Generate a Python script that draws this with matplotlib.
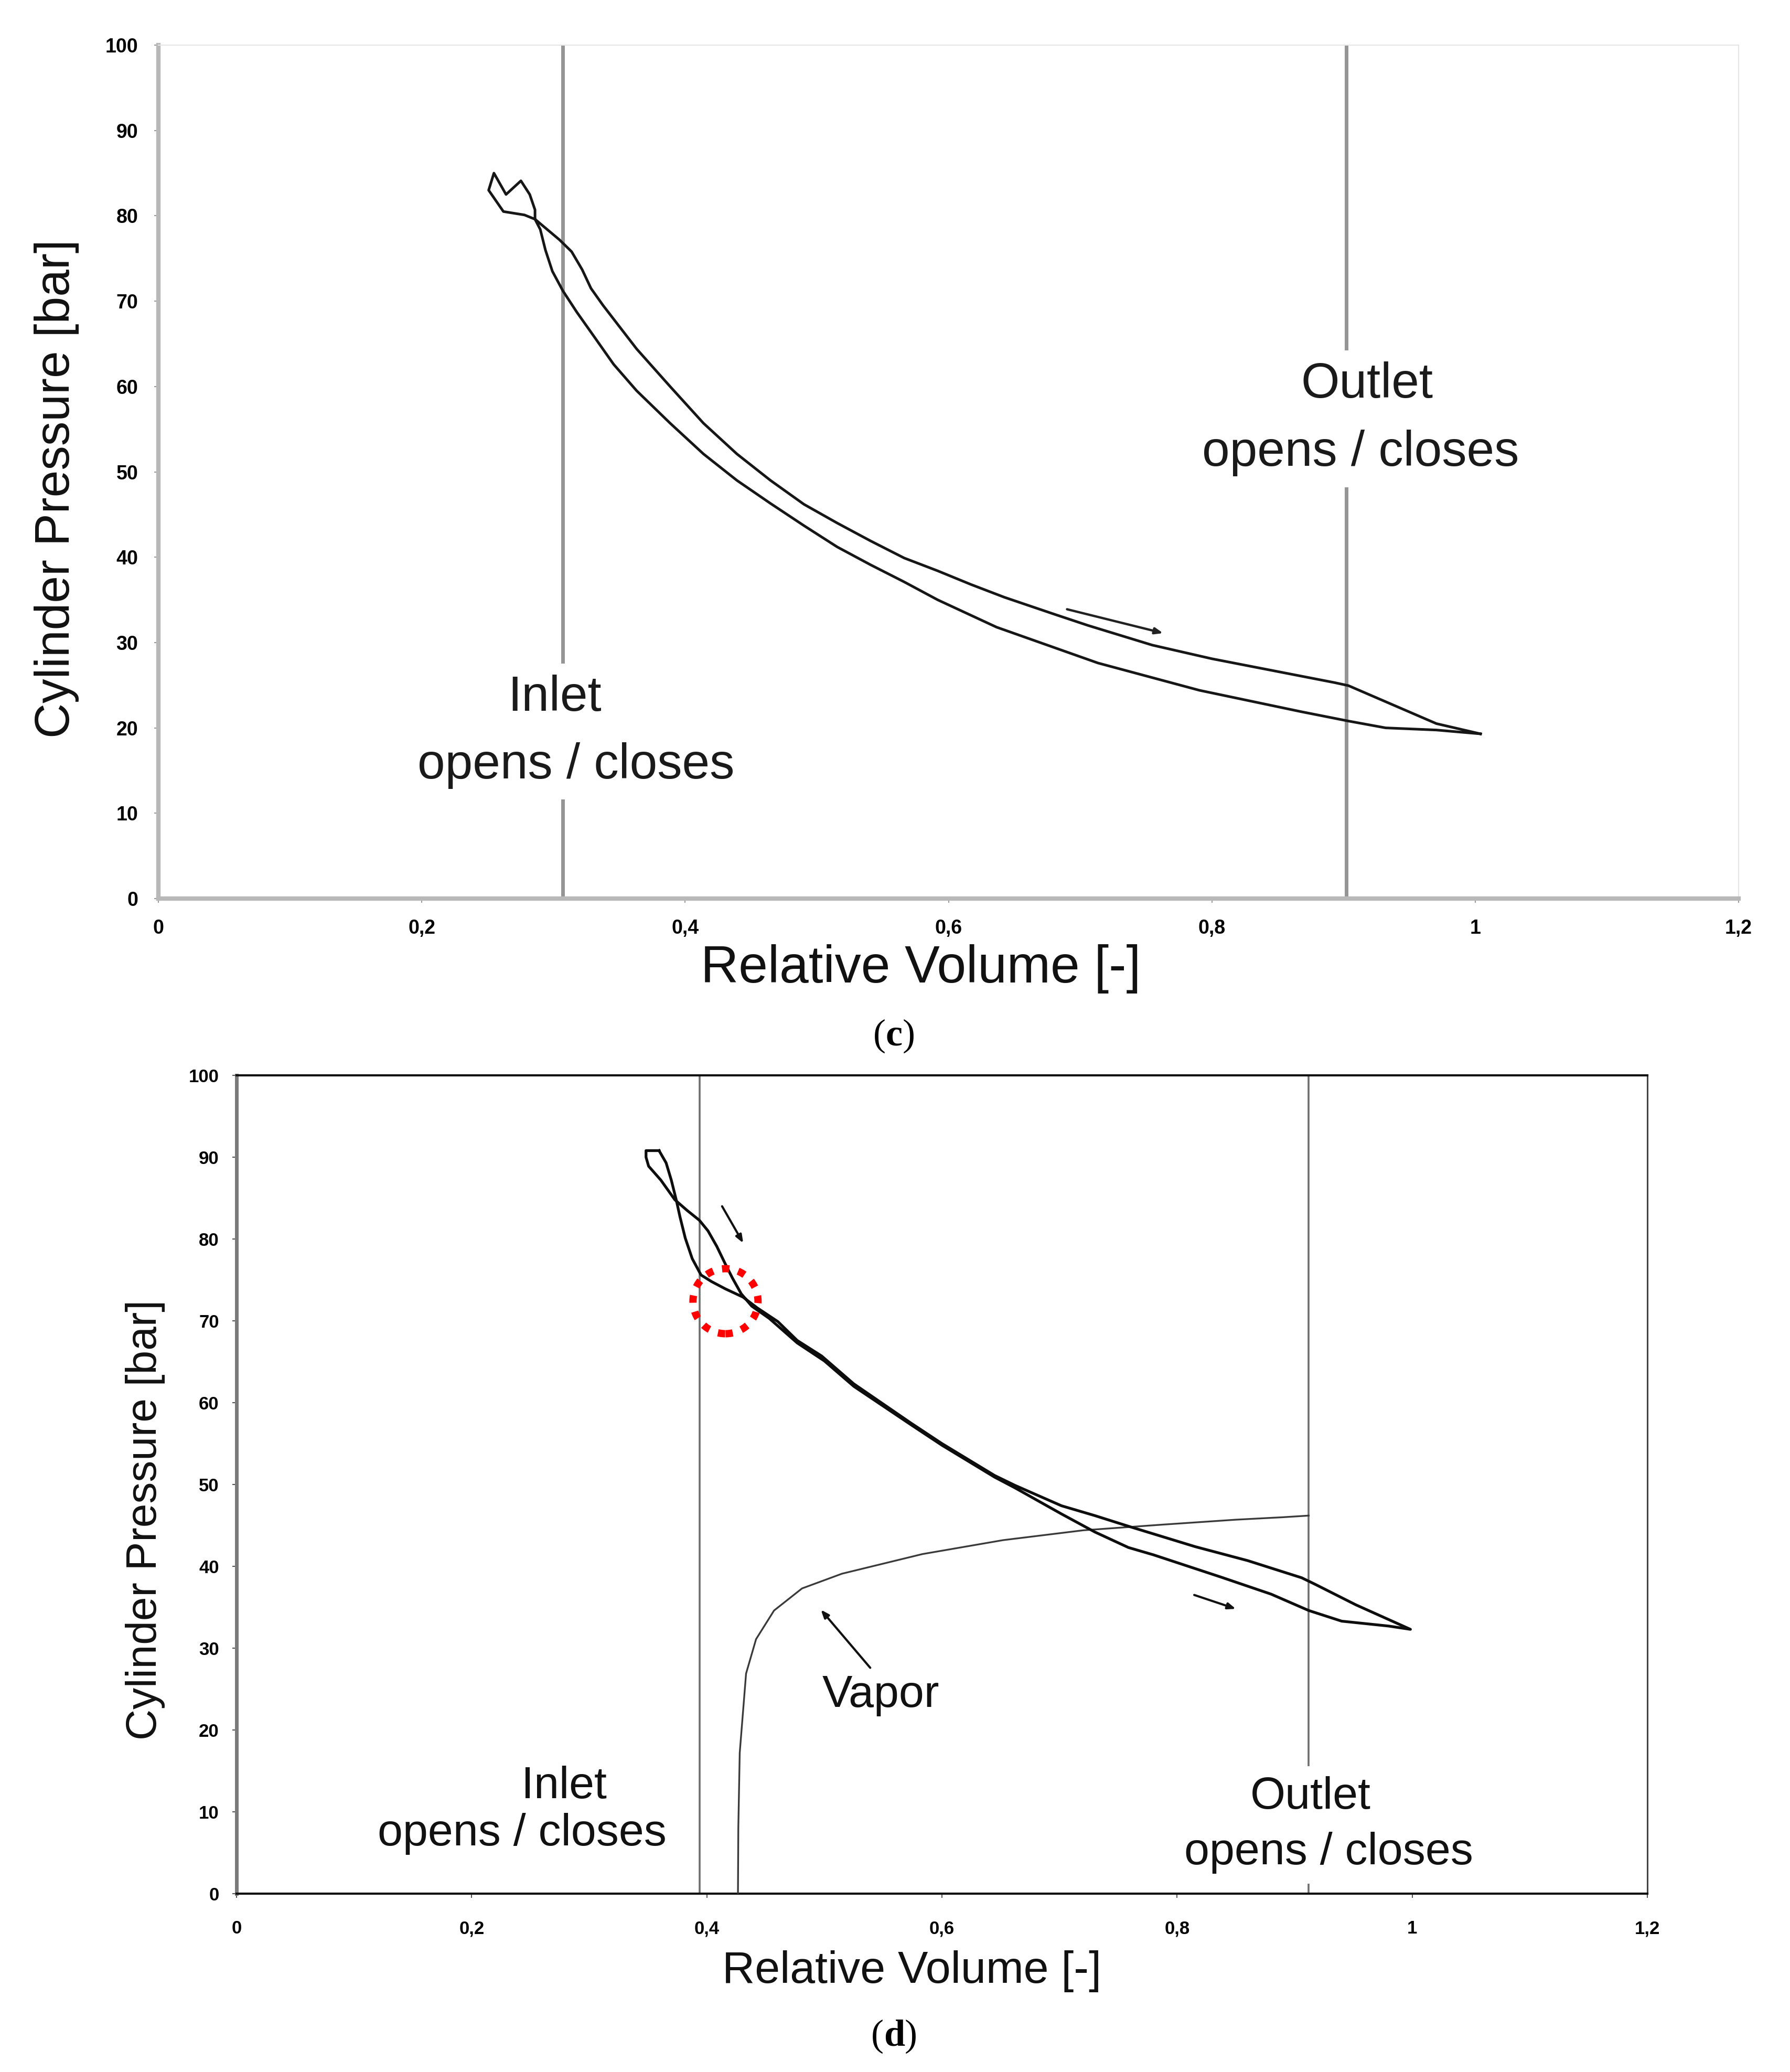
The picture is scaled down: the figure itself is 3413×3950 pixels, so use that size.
import matplotlib
matplotlib.use("Agg")
import matplotlib.pyplot as plt
from matplotlib.patches import Ellipse

plt.rcParams['font.family'] = ['Liberation Sans', 'DejaVu Sans']

# ---------------- shared axis data ----------------
x_ticks = [0, 0.2, 0.4, 0.6, 0.8, 1.0, 1.2]
x_ticklabels = ["0", "0,2", "0,4", "0,6", "0,8", "1", "1,2"]
y_ticks = [0, 10, 20, 30, 40, 50, 60, 70, 80, 90, 100]
y_ticklabels = ["0", "10", "20", "30", "40", "50", "60", "70", "80", "90", "100"]
x_label = "Relative Volume [-]"
y_label = "Cylinder Pressure [bar]"

# ---------------- panel (c) data ----------------
c_inlet_x = 0.307
c_outlet_x = 0.902
c_loop_x = [1.004, 0.9705, 0.932, 0.9037, 0.8677, 0.7906, 0.7135, 0.6365, 0.5918,
            0.5664, 0.5409, 0.5155, 0.4902, 0.4648, 0.4393, 0.4139, 0.3886, 0.3632,
            0.3457, 0.3311, 0.3178, 0.3072, 0.2992, 0.2939, 0.2900, 0.2860,
            0.2860, 0.2820, 0.2753, 0.2640, 0.2548, 0.2508, 0.2620, 0.2780, 0.2860,
            0.3045, 0.3138, 0.3218, 0.3285, 0.3377, 0.3632, 0.3886, 0.4139, 0.4393,
            0.4648, 0.4902, 0.5155, 0.5409, 0.5664, 0.5918, 0.6171, 0.6425, 0.6807,
            0.7060, 0.7547, 0.8000, 0.8500, 0.8933, 0.9037, 0.9705, 1.004]
c_loop_y = [19.3, 19.75, 20.0, 20.8, 21.9, 24.4, 27.6, 31.8, 35.0,
            37.1, 39.1, 41.2, 43.7, 46.3, 49.0, 52.1, 55.7, 59.5,
            62.6, 65.8, 68.7, 71.2, 73.5, 76.0, 78.4, 79.6,
            80.7, 82.5, 84.1, 82.5, 85.0, 83.0, 80.5, 80.1, 79.6,
            77.2, 75.8, 73.7, 71.5, 69.5, 64.4, 60.0, 55.7, 52.1,
            49.0, 46.2, 44.0, 41.9, 39.9, 38.4, 36.8, 35.3, 33.3,
            32.0, 29.7, 28.1, 26.6, 25.3, 24.95, 20.5, 19.3]
c_arrow = [(0.690, 33.9), (0.763, 31.1)]
c_texts = [("Inlet", 0.301, 23.5), ("opens / closes", 0.317, 15.6),
           ("Outlet", 0.918, 60.2), ("opens / closes", 0.913, 52.2)]

# ---------------- panel (d) data ----------------
d_inlet_x = 0.394
d_outlet_x = 0.912
d_loop_x = [0.3594, 0.3483, 0.3483, 0.3505, 0.3609, 0.3728, 0.3832, 0.3936, 0.4010,
            0.4085, 0.4159, 0.4219, 0.4293, 0.4382, 0.4531, 0.4769, 0.5000, 0.5250,
            0.5737, 0.6000, 0.6448, 0.6620, 0.7017, 0.7300, 0.7586, 0.7800, 0.8370,
            0.8800, 0.9120, 0.9400, 0.9800, 0.9985,
            0.9520, 0.9175, 0.9060, 0.8600, 0.8155, 0.7586, 0.7300, 0.7017, 0.6620,
            0.6448, 0.6000, 0.5737, 0.5250, 0.4977, 0.4769, 0.4605, 0.4427, 0.4308,
            0.4159, 0.4040, 0.3951, 0.3876, 0.3817, 0.3772, 0.3743, 0.3698, 0.3654,
            0.3594]
d_loop_y = [90.8, 90.8, 90.0, 88.9, 87.2, 84.8, 83.5, 82.3, 81.0,
            79.1, 76.9, 75.2, 73.3, 71.8, 70.3, 67.3, 65.1, 62.0,
            57.3, 54.8, 50.9, 49.6, 46.4, 44.2, 42.3, 41.4, 38.7,
            36.6, 34.6, 33.3, 32.7, 32.3,
            35.3, 37.8, 38.6, 40.7, 42.4, 44.9, 46.2, 47.4, 49.9,
            51.1, 55.0, 57.5, 62.3, 65.7, 67.6, 69.9, 71.6, 72.9,
            73.9, 74.8, 75.6, 77.6, 80.1, 82.7, 84.6, 87.2, 89.3,
            90.8]
d_vapor_x = [0.4265, 0.4268, 0.4280, 0.4334, 0.4419, 0.4572, 0.4810, 0.5150,
             0.5835, 0.6520, 0.7200, 0.7880, 0.8500, 0.8900, 0.9120]
d_vapor_y = [0.0, 8.0, 17.2, 26.9, 31.1, 34.6, 37.3, 39.1,
             41.5, 43.2, 44.4, 45.1, 45.7, 46.0, 46.2]
d_arrows = [[(0.413, 84.0), (0.431, 79.5)],
            [(0.8146, 36.5), (0.850, 34.8)],
            [(0.539, 27.6), (0.497, 34.7)]]
d_circle = (0.4159, 72.4)
d_texts = [("Inlet", 0.2787, 13.1), ("opens / closes", 0.2427, 7.3),
           ("Outlet", 0.9135, 11.8), ("opens / closes", 0.929, 5.0),
           ("Vapor", 0.548, 24.2)]

W, H = 3413, 3950
fig = plt.figure(figsize=(W / 100, H / 100), dpi=100)
fig.patch.set_facecolor("white")

TEXT_BOX = dict(boxstyle="square,pad=0.22", facecolor="white", edgecolor="none")


def px_axes(left, top, right, bottom):
    return fig.add_axes([left / W, 1 - bottom / H, (right - left) / W, (bottom - top) / H])


def style_ticks(ax, size, xpad, ypad, color):
    ax.set_xlim(0, 1.2)
    ax.set_ylim(0, 100)
    ax.set_xticks(x_ticks)
    ax.set_xticklabels(x_ticklabels)
    ax.set_yticks(y_ticks)
    ax.set_yticklabels(y_ticklabels)
    ax.tick_params(axis="x", length=6, width=1.5, color=color, pad=xpad,
                   labelsize=size, direction="out")
    ax.tick_params(axis="y", length=6, width=1.5, color=color, pad=ypad,
                   labelsize=size, direction="out")
    for lab in ax.get_xticklabels() + ax.get_yticklabels():
        lab.set_fontweight("bold")


# ================= panel (c) =================
axc = px_axes(302, 86, 3315, 1713)
style_ticks(axc, 27, 22, 22, "#9a9a9a")
axc.spines["left"].set_color("#b8b8b8")
axc.spines["left"].set_linewidth(6)
axc.spines["bottom"].set_color("#b8b8b8")
axc.spines["bottom"].set_linewidth(6)
axc.spines["top"].set_color("#e6e6e6")
axc.spines["top"].set_linewidth(1.5)
axc.spines["right"].set_color("#e6e6e6")
axc.spines["right"].set_linewidth(1.5)

axc.axvline(c_inlet_x, color="#959595", lw=5, zorder=1)
axc.axvline(c_outlet_x, color="#959595", lw=5, zorder=1)
axc.plot(c_loop_x, c_loop_y, color="#161616", lw=3.6, solid_joinstyle="round", zorder=3)
axc.annotate("", xy=c_arrow[1], xytext=c_arrow[0],
             arrowprops=dict(arrowstyle="-|>,head_length=0.9,head_width=0.35",
                             color="#222222", lw=3.2, shrinkA=0, shrinkB=0))
for s, x, y in c_texts:
    axc.text(x, y, s, fontsize=68, ha="center", va="center", color="#1a1a1a",
             bbox=TEXT_BOX, zorder=2)

axc.set_xlabel(x_label, fontsize=72, color="#111111")
axc.xaxis.set_label_coords((1756 - 302) / 3013, -(1847 - 1713) / 1627)
axc.xaxis.label.set_va("center")
axc.set_ylabel(y_label, fontsize=67, color="#111111")
axc.yaxis.set_label_coords((108 - 302) / 3013, (1713 - 932) / 1627)
axc.yaxis.label.set_va("center")

# ================= panel (d) =================
axd = px_axes(451, 2050, 3141, 3610)
style_ticks(axd, 25, 30, 18, "#555555")
axd.spines["left"].set_color("#7a7a7a")
axd.spines["left"].set_linewidth(5)
axd.spines["bottom"].set_color("#111111")
axd.spines["bottom"].set_linewidth(3)
axd.spines["top"].set_color("#111111")
axd.spines["top"].set_linewidth(3)
axd.spines["right"].set_color("#444444")
axd.spines["right"].set_linewidth(2.2)

axd.axvline(d_inlet_x, color="#6e6e6e", lw=2.6, zorder=1)
axd.axvline(d_outlet_x, color="#6e6e6e", lw=2.6, zorder=1)
axd.plot(d_vapor_x, d_vapor_y, color="#3a3a3a", lw=2.4, zorder=3)
axd.plot(d_loop_x, d_loop_y, color="#0d0d0d", lw=3.8, solid_joinstyle="round", zorder=3)
for a in d_arrows:
    axd.annotate("", xy=a[1], xytext=a[0],
                 arrowprops=dict(arrowstyle="-|>,head_length=0.9,head_width=0.35",
                                 color="#111111", lw=3.0, shrinkA=0, shrinkB=0))
for s, x, y in d_texts:
    axd.text(x, y, s, fontsize=62, ha="center", va="center", color="#111111",
             bbox=TEXT_BOX, zorder=2)

circ = Ellipse(d_circle, width=2 * 62 / 2241.7, height=2 * 62 / 15.6,
               fill=False, edgecolor="#ff0000", lw=10, linestyle=(0, (1.0, 1.25)),
               zorder=5)
axd.add_patch(circ)

axd.set_xlabel(x_label, fontsize=62, color="#111111")
axd.xaxis.set_label_coords((1738 - 451) / 2690, -(3758 - 3610) / 1560)
axd.xaxis.label.set_va("center")
axd.set_ylabel(y_label, fontsize=59, color="#111111")
axd.yaxis.set_label_coords((277 - 451) / 2690, (3610 - 2897) / 1560)
axd.yaxis.label.set_va("center")

# ================= captions =================
def caption(letter, cx, cy, half):
    kw = dict(fontsize=52, va="center", family=["Liberation Serif", "DejaVu Serif"],
              color="black")
    fig.text((cx - half) / W, 1 - cy / H, "(", ha="right", **kw)
    fig.text(cx / W, 1 - cy / H, letter, ha="center", fontweight="bold", **kw)
    fig.text((cx + half) / W, 1 - cy / H, ")", ha="left", **kw)


caption("c", 1705, 1975, 16)
caption("d", 1705, 3882, 20)

fig.savefig("out.png", dpi=100, facecolor="white")
